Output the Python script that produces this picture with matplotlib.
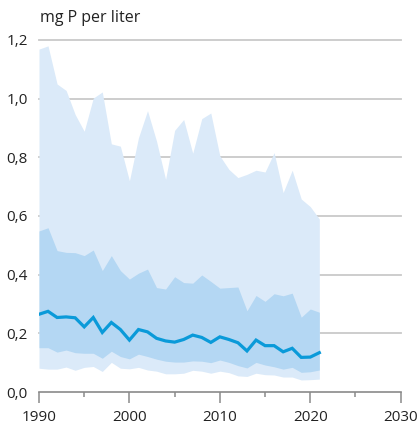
import matplotlib
matplotlib.use("Agg")
import matplotlib.pyplot as plt
from matplotlib.ticker import FuncFormatter, MultipleLocator

years = list(range(1990, 2022))

# 5e-95e percentile band (light)
outer_low = [0.081, 0.078, 0.078, 0.085, 0.074, 0.084, 0.087, 0.070, 0.101, 0.081,
             0.079, 0.084, 0.075, 0.071, 0.062, 0.062, 0.064, 0.074, 0.071, 0.064,
             0.071, 0.066, 0.055, 0.053, 0.064, 0.059, 0.058, 0.051, 0.051, 0.041,
             0.042, 0.044]
outer_high = [1.169, 1.180, 1.050, 1.028, 0.946, 0.889, 1.002, 1.023, 0.846, 0.838,
              0.720, 0.867, 0.959, 0.855, 0.725, 0.892, 0.929, 0.814, 0.932, 0.951,
              0.805, 0.759, 0.731, 0.742, 0.756, 0.750, 0.816, 0.680, 0.756, 0.658,
              0.632, 0.590]

# 25e-75e percentile band (medium)
inner_low = [0.151, 0.151, 0.136, 0.143, 0.134, 0.132, 0.132, 0.115, 0.139, 0.121,
             0.113, 0.129, 0.121, 0.112, 0.105, 0.102, 0.102, 0.106, 0.105, 0.100,
             0.109, 0.101, 0.090, 0.082, 0.101, 0.092, 0.086, 0.078, 0.084, 0.067,
             0.069, 0.075]
inner_high = [0.549, 0.560, 0.482, 0.476, 0.475, 0.465, 0.484, 0.414, 0.465, 0.414,
              0.385, 0.405, 0.419, 0.356, 0.351, 0.393, 0.373, 0.371, 0.399, 0.377,
              0.354, 0.356, 0.358, 0.277, 0.329, 0.309, 0.335, 0.328, 0.337, 0.255,
              0.283, 0.272]

# median
median = [0.265, 0.275, 0.254, 0.256, 0.253, 0.222, 0.254, 0.203, 0.237, 0.213,
          0.177, 0.213, 0.205, 0.183, 0.174, 0.170, 0.179, 0.194, 0.186, 0.169,
          0.188, 0.179, 0.168, 0.140, 0.177, 0.158, 0.158, 0.137, 0.149, 0.118,
          0.119, 0.134]

plt.rcParams["font.family"] = ["Open Sans", "DejaVu Sans"]

fig = plt.figure(figsize=(4.2, 4.28), dpi=100)
ax = fig.add_axes([39 / 420, 36 / 428, (400.7 - 39) / 420, (392 - 40) / 428])

for y in [0.2, 0.4, 0.6, 0.8, 1.0, 1.2]:
    ax.axhline(y, color="#c9c9c9", lw=1.3, zorder=0, clip_on=False)

ax.fill_between(years, outer_low, outer_high, color="#dbeaf9", lw=0, zorder=1)
ax.fill_between(years, inner_low, inner_high, color="#b4d7f3", lw=0, zorder=2)
ax.plot(years, median, color="#0a9ad9", lw=2.3, zorder=3, solid_joinstyle="miter")

ax.set_xlim(1990, 2030)
ax.set_ylim(0, 1.2)
ax.xaxis.set_major_locator(MultipleLocator(10))
ax.xaxis.set_minor_locator(MultipleLocator(5))
ax.yaxis.set_major_locator(MultipleLocator(0.2))
ax.yaxis.set_major_formatter(FuncFormatter(lambda v, p: f"{v:.1f}".replace(".", ",")))

for s in ["top", "right", "left"]:
    ax.spines[s].set_visible(False)
ax.spines["bottom"].set_color("#8a8a8a")
ax.spines["bottom"].set_linewidth(1.2)

ax.tick_params(axis="x", which="major", length=8, width=1.1, color="#8a8a8a",
               labelsize=11, labelcolor="#222222", pad=5)
ax.tick_params(axis="x", which="minor", length=3.5, width=1.1, color="#8a8a8a")
ax.tick_params(axis="y", length=0, labelsize=11, labelcolor="#222222", pad=8)

fig.text(40 / 420, 1 - 18 / 428, "mg P per liter", fontsize=11.5, color="#222222",
         ha="left", va="center")

fig.savefig("out.png", dpi=100)
plt.close(fig)
